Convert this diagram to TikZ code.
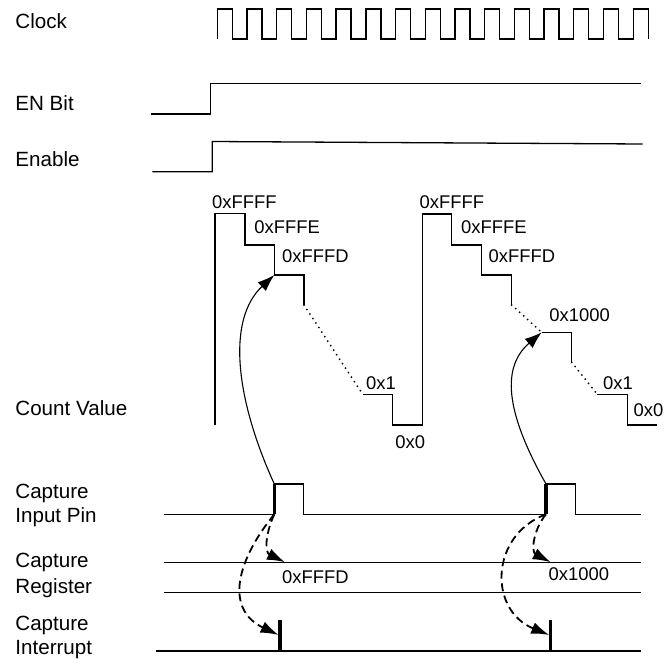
\documentclass[tikz,border=0pt]{standalone}
\usepackage{fontspec}
\setmainfont{Liberation Sans}
\usetikzlibrary{arrows.meta}
\begin{document}
\begin{tikzpicture}[x=0.5pt,y=-0.5pt,
  lbl/.style={anchor=base west,inner sep=0pt,font=\fontsize{10.3}{12}\selectfont},
  val/.style={anchor=base west,inner sep=0pt,font=\fontsize{9.2}{11}\selectfont},
  wave/.style={line width=0.65pt,line join=miter},
  thickmark/.style={line width=1.6pt},
  dotline/.style={line width=1pt,line cap=round,dash pattern=on 0pt off 2.7pt},
  capt/.style={line width=0.55pt,-{Latex[length=8.5pt,width=6pt]}},
  dasharrow/.style={line width=0.9pt,dash pattern=on 4pt off 2.3pt,-{Latex[length=9pt,width=6pt]}}
]
\useasboundingbox (0,0) rectangle (664,664);

% labels
\node[lbl] (lclock) at (15,28.3) {Clock};
\node[lbl] (len) at (15,110) {EN Bit};
\node[lbl] (lenable) at (15,166.7) {Enable};
\node[lbl] (lcount) at (15,415) {Count Value};
\node[lbl] (lpin1) at (15,498.3) {Capture};
\node[lbl] (lpin2) at (15,522.7) {Input Pin};
\node[lbl] (lreg1) at (15,567.3) {Capture};
\node[lbl] (lreg2) at (15,593.3) {Register};
\node[lbl] (lint1) at (15,630) {Capture};
\node[lbl] (lint2) at (15,654) {Interrupt};

% clock
\draw[wave] (217.3,39) \foreach \i in {1,...,14}{ -- ++(0,-30) -- ++(15,0) -- ++(0,30) -- ++(14.71,0)} -- ++(0,-30) -- ++(15,0) -- ++(0,30);

% EN bit and enable
\draw[wave] (151,114) -- (210.7,114) -- (210.7,83.5) -- (641,83.5);
\draw[wave] (152.3,171.7) -- (212.3,171.7) -- (212.3,141.5) -- (642.7,144);

% count value
\coordinate (fffd) at (274.3,275);
\coordinate (x1000) at (541.7,332.3);
\draw[wave] (215,425) -- (215,213.5) -- (245,213.5) -- (245,245) -- (274.3,245) -- (fffd) -- (304,275) -- (304,305);
\draw[dotline] (304,305) -- (362.7,394.3);
\draw[wave] (362.7,394.3) -- (392.7,394.3) -- (392.7,425) -- (422.7,425) -- (422.7,214) -- (451.7,214) -- (451.7,245) -- (481.7,245) -- (481.7,275) -- (511.7,275) -- (511.7,305);
\draw[dotline] (511.7,305) -- (x1000);
\draw[wave] (x1000) -- (571.7,332.3) -- (571.7,362.3);
\draw[dotline] (571.7,362.3) -- (597.3,394.3);
\draw[wave] (597.3,394.3) -- (627.3,394.3) -- (627.3,425) -- (656.7,425);

\node[val] (vA1) at (211.7,208.3) {0xFFFF};
\node[val] (vA2) at (254,233.3) {0xFFFE};
\node[val] (vA3) at (281.7,262.7) {0xFFFD};
\node[val] (vA4) at (365.7,389) {0x1};
\node[val] (vA5) at (395,448.3) {0x0};
\node[val] (vB1) at (419.3,208.3) {0xFFFF};
\node[val] (vB2) at (460.7,233.3) {0xFFFE};
\node[val] (vB3) at (488.3,262.7) {0xFFFD};
\node[val] (vB4) at (549,321.7) {0x1000};
\node[val] (vB5) at (602.7,389) {0x1};
\node[val] (vB6) at (633.3,416.7) {0x0};

% capture input pin
\coordinate (pinAtop) at (274.3,484);
\coordinate (pinAbot) at (274.3,514.3);
\coordinate (pinBtop) at (546,484);
\coordinate (pinBbot) at (546,514.3);
\draw[wave] (164,514.3) -- (pinAbot);
\draw[wave] (pinAtop) -- (303.3,484) -- (303.3,514.3) -- (pinBbot);
\draw[wave] (pinBtop) -- (575.7,484) -- (575.7,514.3) -- (641,514.3);
\draw[thickmark] (pinAbot) -- (pinAtop);
\draw[thickmark] (pinBbot) -- (pinBtop);

% capture register
\draw[wave] (164,562.7) -- (641,562.7);
\draw[wave] (164,592.7) -- (641,592.7);
\node[val] (rA) at (281.7,583.3) {0xFFFD};
\node[val] (rB) at (548.3,580.7) {0x1000};
\coordinate (regA) at (285,562.2);
\coordinate (regB) at (550.7,562.2);

% capture interrupt
\draw[wave] (155.7,651) -- (641,651);
\draw[thickmark] (280,620) -- (280,651);
\draw[thickmark] (550.7,620) -- (550.7,651);
\coordinate (intA) at (278.6,635);
\coordinate (intB) at (549.3,635);

% arrows
\draw[capt] (pinAtop) .. controls (236,400) and (226,320) .. (fffd);
\draw[capt] (pinBtop) .. controls (510,420) and (498,370) .. (x1000);
\draw[dasharrow] (pinAbot) .. controls (266,532) and (264,552) .. (regA);
\draw[dasharrow] (pinAbot) .. controls (237,560) and (224,609) .. (intA);
\draw[dasharrow] (pinBbot) .. controls (533,530) and (531,552) .. (regB);
\draw[dasharrow] (pinBbot) .. controls (490,535) and (488,610) .. (intB);
\end{tikzpicture}
\end{document}
